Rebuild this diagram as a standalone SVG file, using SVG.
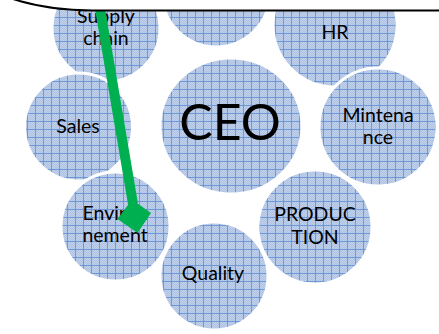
<svg xmlns="http://www.w3.org/2000/svg" width="439" height="334" viewBox="0 0 439 334">
<style>
.n{fill:url(#grid);stroke:#ffffff;stroke-width:3}
.t{font-family:Lato,"Liberation Sans",sans-serif;font-size:19.5px;fill:#000;text-anchor:middle}
.big{font-size:50px}
</style>
<defs>
<pattern id="tex" width="2" height="2" patternUnits="userSpaceOnUse">
<rect width="2" height="2" fill="#c0d0ea"/>
<rect width="1" height="1" fill="#afc3e5"/>
<rect x="1" y="1" width="1" height="1" fill="#afc3e5"/>
</pattern>
<pattern id="grid" width="8" height="8" patternUnits="userSpaceOnUse" x="3" y="1">
<rect width="8" height="8" fill="url(#tex)"/>
<rect width="8" height="1" fill="#7098d2"/>
<rect width="1" height="8" fill="#7098d2"/>
</pattern>
</defs>
<g id="supply"><circle class="n" cx="106" cy="28" r="54"/><text class="t" x="106" y="23">Supply</text><text class="t" x="106" y="45">chain</text></g>
<g id="top"><circle class="n" cx="216" cy="-7" r="54"/></g>
<g id="hr"><circle class="n" cx="335" cy="25" r="62"/><text class="t" x="335" y="39">HR</text></g>
<g id="ceo"><ellipse class="n" cx="231" cy="126" rx="71" ry="68"/><text class="t big" x="230" y="140">CEO</text></g>
<g id="sales"><circle class="n" cx="78.5" cy="127" r="54"/><text class="t" x="78" y="133">Sales</text></g>
<g id="mintenance"><circle class="n" cx="378" cy="127" r="59"/><text class="t" x="378" y="122">Mintena</text><text class="t" x="378" y="144">nce</text></g>
<g id="environnement"><circle class="n" cx="115.5" cy="226.5" r="54.5"/><text class="t" x="115" y="220">Environ</text><text class="t" x="115" y="242">nement</text></g>
<g id="production"><circle class="n" cx="315" cy="227" r="57"/><text class="t" x="315" y="221">PRODUC</text><text class="t" x="315" y="244">TION</text></g>
<g id="quality"><circle class="n" cx="214" cy="276" r="54"/><text class="t" x="213" y="280">Quality</text></g>
<g id="connectors">
<line x1="98.5" y1="0" x2="133" y2="204" stroke="#00b050" stroke-width="10"/>
<polygon points="117.5,219 132,199.5 151,213 137.5,233" fill="#00b050"/>
</g>
<g id="callout"><path d="M10,-2 Q45,10 92,10.5 L441,10.5 L441,-2 Z" fill="#ffffff" stroke="#000000" stroke-width="2"/></g>
</svg>
